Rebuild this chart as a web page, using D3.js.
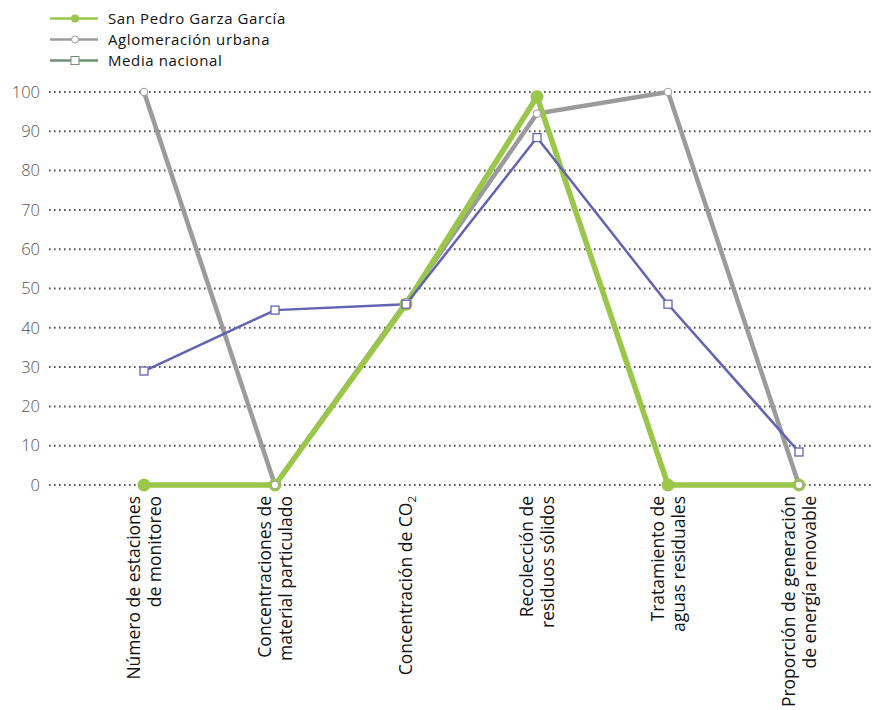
<!DOCTYPE html>
<html><head><meta charset="utf-8">
<script src="https://cdn.jsdelivr.net/npm/d3@7"></script>
<style>body{margin:0;background:#fff}svg{display:block}text{font-family:"Open Sans","Noto Sans",sans-serif}</style>
</head><body><svg id="c" width="874" height="710"></svg>
<script>
const categories = [
  ["Número de estaciones","de monitoreo"],
  ["Concentraciones de","material particulado"],
  ["Concentración de CO₂"],
  ["Recolección de","residuos sólidos"],
  ["Tratamiento de","aguas residuales"],
  ["Proporción de generación","de energía renovable"]
];
const seriesNames = ["San Pedro Garza García","Aglomeración urbana","Media nacional"];
const sanPedro = [0, 0, 46, 98.8, 0, 0];
const aglomeracion = [100, 0, 46.5, 94.5, 100, 0];
const mediaNacional = [29, 44.5, 46, 88.4, 46, 8.4];
const yTicks = [0,10,20,30,40,50,60,70,80,90,100];

const svg = d3.select("#c");
const idx = d3.range(categories.length);
const x = d3.scalePoint().domain(idx).range([144, 799]);
const y = d3.scaleLinear().domain([0,100]).range([485, 92]);

// gridlines
svg.append("g").selectAll("line").data(yTicks).join("line")
  .attr("x1", 49).attr("x2", 872)
  .attr("y1", d => y(d)).attr("y2", d => y(d))
  .attr("stroke", "#555").attr("stroke-width", 2)
  .attr("stroke-dasharray", "1.6,3.4");

// y axis labels
const yAxis = d3.axisLeft(y).tickValues(yTicks).tickSize(0).tickPadding(0);
const ga = svg.append("g").attr("transform", "translate(40,0)").call(yAxis);
ga.select(".domain").remove();
ga.selectAll("text").attr("font-size", 16.5).attr("fill", "#555")
  .style("font-family", '"Open Sans",sans-serif').attr("font-weight", 300);

// x labels
const xl = svg.append("g");
idx.forEach(i => {
  const lines = categories[i];
  const n = lines.length;
  const t = xl.append("text")
    .attr("transform", `translate(${x(i)},496) rotate(-90)`)
    .attr("text-anchor", "end").attr("font-size", 17.5).attr("fill", "#111");
  lines.forEach((ln, k) => {
    const dy = (k - (n - 1) / 2) * 21 + 6;
    if (ln.includes("CO₂")) {
      const tt = t.append("tspan").attr("x", 0).attr("dy", dy);
      tt.append("tspan").text("Concentración de CO");
      tt.append("tspan").text("2").attr("font-size", 11.5).attr("dy", 4);
    } else {
      t.append("tspan").attr("x", 0).attr("y", 0).attr("dy", dy).text(ln);
    }
  });
});

const line = d3.line().x((d,i) => x(i)).y(d => y(d));
const cGreen = "#9ac64a", cGray = "#9b9b9b", cPurple = "#6363b3", cLegend3 = "#6f8f73";

svg.append("path").datum(aglomeracion).attr("d", line).attr("fill","none")
  .attr("stroke", cGray).attr("stroke-width", 4.5);
svg.append("path").datum(sanPedro).attr("d", line).attr("fill","none")
  .attr("stroke", cGreen).attr("stroke-width", 5.5);
svg.append("path").datum(mediaNacional).attr("d", line).attr("fill","none")
  .attr("stroke", cPurple).attr("stroke-width", 2.5);

svg.append("g").selectAll("circle").data(sanPedro).join("circle")
  .attr("cx", (d,i) => x(i)).attr("cy", d => y(d)).attr("r", 6.5).attr("fill", cGreen);
svg.append("g").selectAll("circle").data(aglomeracion).join("circle")
  .attr("cx", (d,i) => x(i)).attr("cy", d => y(d)).attr("r", 3.8)
  .attr("fill", "#fff").attr("stroke", cGray).attr("stroke-width", 1);
svg.append("g").selectAll("rect").data(mediaNacional).join("rect")
  .attr("x", (d,i) => x(i) - 4).attr("y", d => y(d) - 4).attr("width", 8).attr("height", 8)
  .attr("fill", "#fff").attr("stroke", cPurple).attr("stroke-width", 1.3);

// legend
const leg = svg.append("g");
const legY = [18.5, 39.5, 60.5];
const legColors = [cGreen, cGray, cLegend3];
seriesNames.forEach((nm, i) => {
  leg.append("line").attr("x1", 50).attr("x2", 98).attr("y1", legY[i]).attr("y2", legY[i])
    .attr("stroke", legColors[i]).attr("stroke-width", 2.5);
  if (i === 0) leg.append("circle").attr("cx", 75).attr("cy", legY[i]).attr("r", 4).attr("fill", cGreen);
  if (i === 1) leg.append("circle").attr("cx", 75).attr("cy", legY[i]).attr("r", 3.5).attr("fill", "#fff").attr("stroke", cGray);
  if (i === 2) leg.append("rect").attr("x", 71).attr("y", legY[i]-4).attr("width", 8).attr("height", 8).attr("fill", "#fff").attr("stroke", cLegend3);
  leg.append("text").attr("x", 108).attr("y", legY[i]).attr("dy", "0.35em")
    .attr("font-size", 15).attr("letter-spacing", 0.6).attr("fill", "#111").text(nm);
});
</script></body></html>
